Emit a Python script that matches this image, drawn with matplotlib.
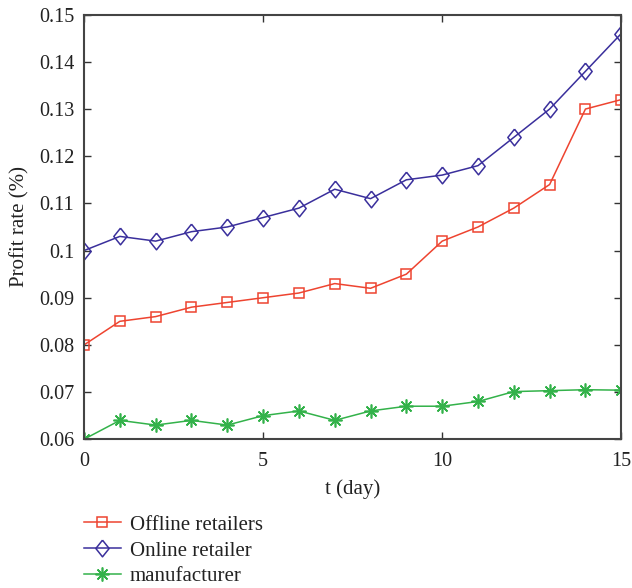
import matplotlib.pyplot as plt
import numpy as np

plt.rcParams['font.family'] = ['Liberation Serif', 'DejaVu Serif']

t = np.arange(16)
offline = [0.080, 0.085, 0.086, 0.088, 0.089, 0.090, 0.091, 0.093,
           0.092, 0.095, 0.102, 0.105, 0.109, 0.114, 0.130, 0.132]
online = [0.100, 0.103, 0.102, 0.104, 0.105, 0.107, 0.109, 0.113,
          0.111, 0.115, 0.116, 0.118, 0.124, 0.130, 0.138, 0.146]
manufacturer = [0.060, 0.064, 0.063, 0.064, 0.063, 0.065, 0.066, 0.064,
                0.066, 0.067, 0.067, 0.068, 0.0701, 0.0703, 0.0705, 0.0704]
yticklabels = ['0.06', '0.07', '0.08', '0.09', '0.1', '0.11', '0.12',
               '0.13', '0.14', '0.15']

# slightly tall diamond like the matlab one
diamond = [(0, 1), (0.8, 0), (0, -1), (-0.8, 0), (0, 1)]

fig = plt.figure(figsize=(6.32, 5.88), dpi=100)
ax = fig.add_axes([0.133, 0.253, 0.850, 0.722])

ax.plot(t, offline, color='#ee4430', lw=1.1, marker='s', ms=7, mfc='none',
        mew=1.1, label='Offline retailers')
ax.plot(t, online, color='#3a2f9c', lw=1.1, marker=diamond, ms=12, mfc='none',
        mew=1.1, label='Online retailer')
ax.plot(t, manufacturer, color='#33b24a', lw=1.1, marker=(8, 2, 0), ms=10,
        mew=1.2, label='manufacturer')

ax.set_xlim(0, 15)
ax.set_ylim(0.06, 0.15)
ax.set_xticks([0, 5, 10, 15])
ax.set_yticks(np.linspace(0.06, 0.15, 10))
ax.set_yticklabels(yticklabels)
ax.tick_params(direction='in', top=True, right=True, labelsize=14.5,
               length=5, width=1, colors='#333333', labelcolor='#222222')
ax.tick_params(axis='y', pad=7)
ax.tick_params(axis='x', pad=9)
for s in ax.spines.values():
    s.set_color('#444444')
    s.set_linewidth(1.5)
ax.set_xlabel('t (day)', fontsize=15, color='#222222', labelpad=6)
ax.set_ylabel('Profit rate (%)', fontsize=15, color='#222222', labelpad=7)

fig.legend(loc='upper left', bbox_to_anchor=(0.133, 0.124), frameon=False,
           fontsize=15, handlelength=1.75, handletextpad=0.45,
           labelspacing=0.3, borderpad=0, borderaxespad=0,
           labelcolor='#222222')

fig.savefig('out.png', dpi=100)
